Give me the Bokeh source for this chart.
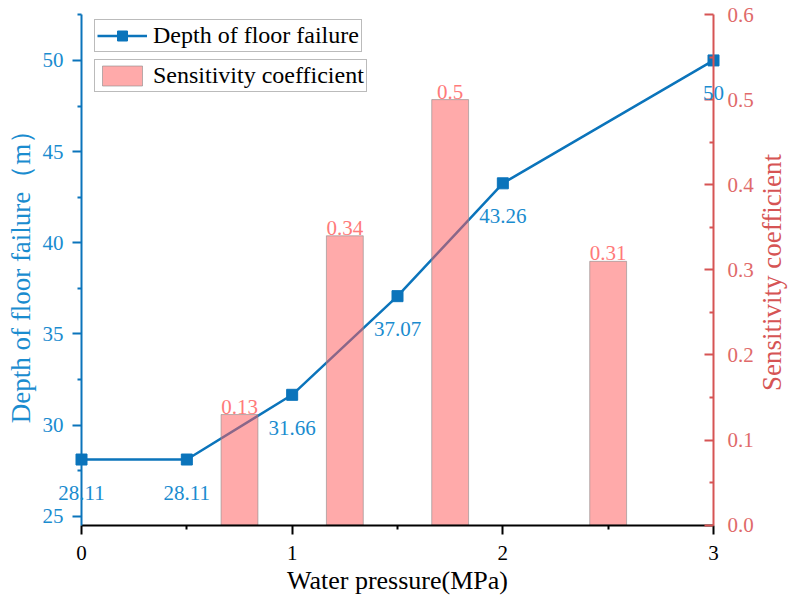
import math
from bokeh.plotting import figure
from bokeh.models import (Range1d, LinearAxis, FixedTicker, ColumnDataSource,
                          Label, Legend, LegendItem, NumeralTickFormatter)
from bokeh.embed import file_html
from bokeh.resources import INLINE

# data
pressure = [0, 0.5, 1, 1.5, 2, 3]
depth = [28.11, 28.11, 31.66, 37.07, 43.26, 50]
depth_text = ["28.11", "28.11", "31.66", "37.07", "43.26", "50"]

bar_pressure = [0.75, 1.25, 1.75, 2.5]
sensitivity = [0.13, 0.34, 0.5, 0.31]
sens_text = ["0.13", "0.34", "0.5", "0.31"]

x_ticks = [0, 1, 2, 3]
x_minor = [0.5, 1.5, 2.5]
depth_ticks = [25, 30, 35, 40, 45, 50]
depth_minor = [27.5, 32.5, 37.5, 42.5, 47.5, 52.5]
sens_ticks = [0, 0.1, 0.2, 0.3, 0.4, 0.5, 0.6]
sens_minor = [0.05, 0.15, 0.25, 0.35, 0.45, 0.55]

# visible axis extents
X_MIN, X_MAX = 0, 3
Y_MIN, Y_MAX = 24.506, 52.52
S_MIN, S_MAX = 0, 0.6

FONT = "Liberation Serif"
BLUE = "#0b74bb"
BLUE_TXT = "#1a8ccf"
RED = "#d65454"
RED_TXT = "#e06a6a"
BAR_TXT = "#ff7a7a"

line_src = ColumnDataSource(dict(x=pressure, y=depth))
bar_src = ColumnDataSource(dict(x=bar_pressure, y=sensitivity))

# the frame fills the whole canvas (so no text is clipped); the axes sit at
# fixed data locations and are limited with bounds
p = figure(width=790, height=596, x_range=Range1d(-0.3845, 3.3655),
           y_range=Range1d(20.597, 53.2875),
           output_backend="svg", toolbar_location=None,
           min_border_left=0, min_border_right=0, min_border_top=0, min_border_bottom=0)
p.outline_line_color = None
p.xgrid.grid_line_color = None
p.ygrid.grid_line_color = None
p.extra_y_ranges = {"sens": Range1d(-0.08377, 0.61645)}

line_r = p.line("x", "y", source=line_src, color=BLUE, line_width=2.5)
mark_r = p.scatter("x", "y", source=line_src, marker="square", size=11, color=BLUE)
bar_r = p.vbar(x="x", top="y", width=0.175, source=bar_src, y_range_name="sens",
               fill_color="#ff5c5c", fill_alpha=0.52, line_color="#8a8a8a", line_alpha=0.6)

for xv, yv, t in zip(pressure, depth, depth_text):
    p.add_layout(Label(x=xv, y=yv, text=t, y_offset=-33, text_align="center",
                       text_baseline="middle", text_font=FONT, text_font_size="21px",
                       text_color=BLUE_TXT))
for xv, yv, t in zip(bar_pressure, sensitivity, sens_text):
    p.add_layout(Label(x=xv, y=yv, text=t, y_range_name="sens", y_offset=1,
                       text_align="center", text_baseline="bottom", text_font=FONT,
                       text_font_size="21px", text_color=BAR_TXT))

# bottom axis
xa = p.xaxis[0]
xa.fixed_location = Y_MIN
xa.bounds = (X_MIN, X_MAX)
xa.ticker = FixedTicker(ticks=x_ticks, minor_ticks=x_minor)
xa.axis_label = "Water pressure(MPa)"
xa.axis_line_color = "black"
xa.axis_line_width = 2
xa.major_tick_line_color = "black"
xa.major_tick_line_width = 2
xa.major_tick_out = 9
xa.major_tick_in = 0
xa.minor_tick_line_color = "black"
xa.minor_tick_line_width = 2
xa.minor_tick_out = 4
xa.minor_tick_in = 0
xa.major_label_text_font = FONT
xa.major_label_text_font_size = "21px"
xa.major_label_text_color = "black"
xa.major_label_standoff = 12
xa.axis_label_text_font = FONT
xa.axis_label_text_font_size = "26px"
xa.axis_label_text_font_style = "normal"
xa.axis_label_text_color = "black"
xa.axis_label_standoff = 2

# left axis
ya = p.yaxis[0]
ya.fixed_location = X_MIN
ya.bounds = (Y_MIN, Y_MAX)
ya.ticker = FixedTicker(ticks=depth_ticks, minor_ticks=depth_minor)
ya.axis_label = "Depth of floor failure（m）"
ya.axis_line_color = BLUE
ya.axis_line_width = 2
ya.major_tick_line_color = BLUE
ya.major_tick_line_width = 2
ya.major_tick_out = 9
ya.major_tick_in = 0
ya.minor_tick_line_color = BLUE
ya.minor_tick_line_width = 2
ya.minor_tick_out = 4
ya.minor_tick_in = 0
ya.major_label_text_font = FONT
ya.major_label_text_font_size = "21px"
ya.major_label_text_color = BLUE_TXT
ya.major_label_standoff = 9
ya.axis_label_text_font = FONT
ya.axis_label_text_font_size = "27px"
ya.axis_label_text_font_style = "normal"
ya.axis_label_text_color = BLUE_TXT
ya.axis_label_standoff = 4

# right axis
ra = LinearAxis(y_range_name="sens",
                ticker=FixedTicker(ticks=sens_ticks, minor_ticks=sens_minor),
                formatter=NumeralTickFormatter(format="0.0"))
ra.fixed_location = X_MAX
ra.bounds = (S_MIN, S_MAX)
ra.axis_line_color = RED
ra.axis_line_width = 2
ra.major_tick_line_color = RED
ra.major_tick_line_width = 2
ra.major_tick_out = 0
ra.major_tick_in = 9
ra.minor_tick_line_color = RED
ra.minor_tick_line_width = 2
ra.minor_tick_out = 0
ra.minor_tick_in = 4
ra.major_label_text_font = FONT
ra.major_label_text_font_size = "21px"
ra.major_label_text_color = RED_TXT
ra.major_label_standoff = 14
p.add_layout(ra, "right")

# right axis title, reading bottom to top as in the original
p.add_layout(Label(x=771, y=324, x_units="screen", y_units="screen",
                   text="Sensitivity coefficient", angle=math.pi / 2,
                   text_align="center", text_baseline="middle", text_font=FONT,
                   text_font_size="27px", text_color=RED))

# two separate legend boxes
def make_legend(item, loc):
    lg = Legend(items=[item], location=loc, orientation="vertical",
                label_text_font=FONT, label_text_font_size="24px", label_text_color="black",
                glyph_width=50, glyph_height=25, label_standoff=6, label_height=27,
                padding=2, margin=0, spacing=0,
                border_line_color="#777777", border_line_width=1,
                background_fill_color="white", background_fill_alpha=1)
    p.add_layout(lg, "center")

make_legend(LegendItem(label="Depth of floor failure", renderers=[line_r, mark_r]), (94, 544))
make_legend(LegendItem(label="Sensitivity coefficient", renderers=[bar_r]), (94, 504))

open("out.html", "w").write(file_html(p, INLINE))
